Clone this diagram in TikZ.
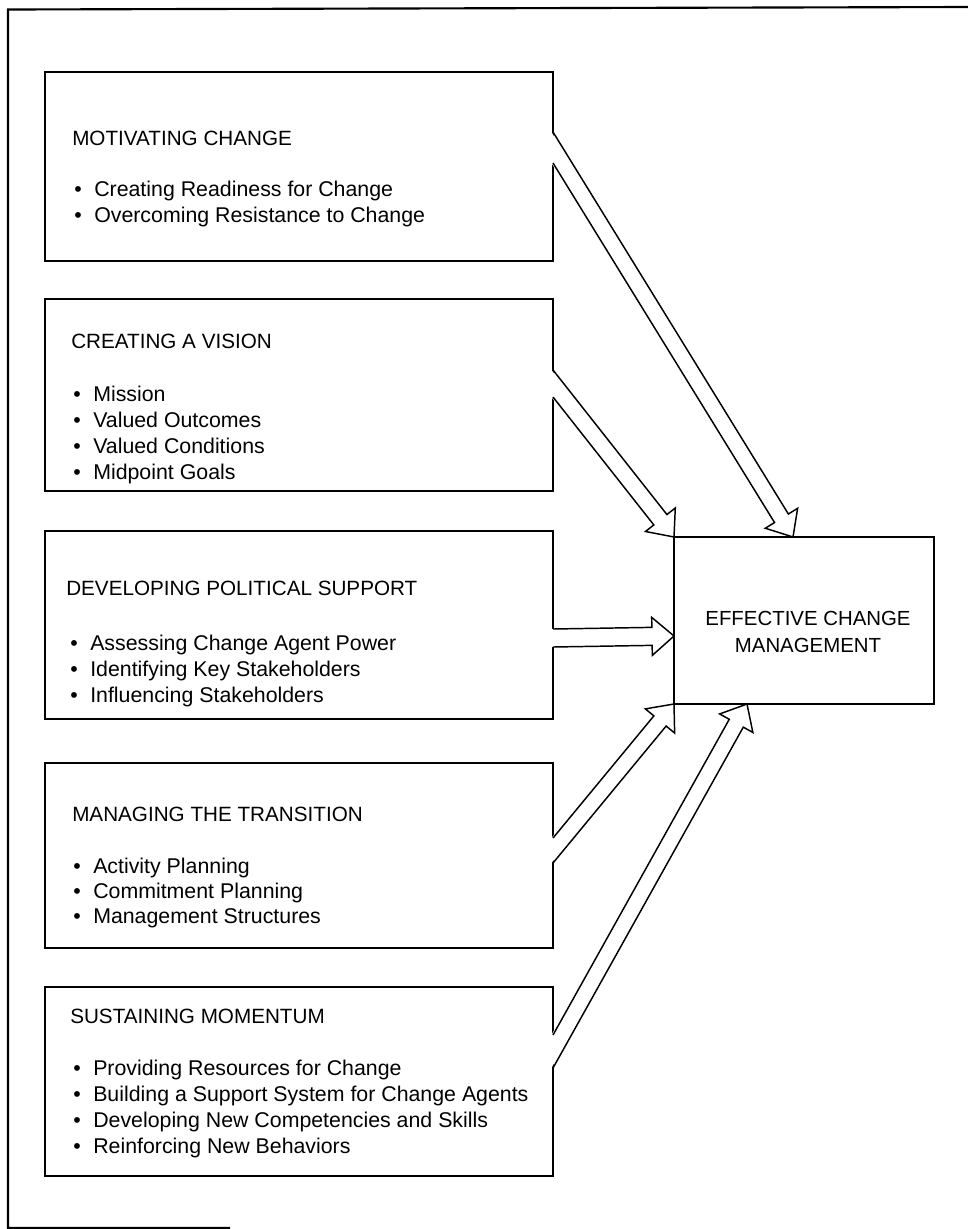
\documentclass[tikz,border=0pt]{standalone}
\usepackage{fontspec}
\setmainfont{Liberation Sans}
\usetikzlibrary{calc}
\newcommand{\myblockarrow}[3]{%
  \path ($(#1)!0.5!(#2)$) coordinate (ba-m)
        ($(#3)!16.5pt!(ba-m)$) coordinate (ba-c)
        ($(ba-c)!1!90:(#3)$) coordinate (ba-n)
        ($(ba-c)!(#1)!(ba-n)$) coordinate (ba-pu)
        ($(ba-c)!(#2)!(ba-n)$) coordinate (ba-pl)
        ($(ba-c)!14.25pt!(ba-pu)$) coordinate (ba-bu)
        ($(ba-c)!14.25pt!(ba-pl)$) coordinate (ba-bl);
  \fill[white] ($(#1)+(-1.6,0)$) -- (ba-pu) -- (ba-bu) -- (#3) -- (ba-bl) -- (ba-pl) -- ($(#2)+(-1.6,0)$) -- cycle;
  \draw[arrowline] (#1) -- (ba-pu) -- (ba-bu) -- (#3) -- (ba-bl) -- (ba-pl) -- (#2);
}
\newcommand{\myboxtext}[7]{%
  % #1 name, #2 heading x, #3 heading baseline, #4 item text x, #5 first item baseline, #6 step, #7 heading
  \node[headtext] (#1-h) at (#2,#3) {#7};
}
\begin{document}
\begin{tikzpicture}[x=0.75pt,y=-0.75pt,
  box/.style={draw, line width=1.2pt, anchor=north west, outer sep=0pt, inner sep=0pt},
  arrowline/.style={line width=1.1pt, line join=miter},
  headtext/.style={anchor=base west, inner sep=0pt, font=\fontsize{15.5}{18}\selectfont},
  itemtext/.style={anchor=base west, inner sep=0pt, font=\fontsize{16}{19}\selectfont},
  ecmtext/.style={align=center, inner sep=0pt, font=\fontsize{15.3}{20.25}\selectfont}]
\useasboundingbox (0,0) rectangle (968,1229);
% outer frame (only left, top and part of bottom visible)
\draw[line width=1.6pt] (230,1228) -- (8,1228) -- (8,9.5) -- (968,7);

% boxes
\node[box, minimum width={508*0.75pt}, minimum height={189*0.75pt}] (m1) at (45,72) {};
\node[box, minimum width={508*0.75pt}, minimum height={192*0.75pt}] (m2) at (45,299) {};
\node[box, minimum width={508*0.75pt}, minimum height={188*0.75pt}] (m3) at (45,531) {};
\node[box, minimum width={508*0.75pt}, minimum height={185*0.75pt}] (m4) at (45,763) {};
\node[box, minimum width={508*0.75pt}, minimum height={189*0.75pt}] (m5) at (45,987) {};
\node[box, minimum width={260*0.75pt}, minimum height={167*0.75pt}] (ecm) at (674,537) {};

% texts
\node[headtext] (m1-h) at (72,145.5) {MOTIVATING CHANGE};
\foreach \t [count=\i] in {Creating Readiness for Change, Overcoming Resistance to Change}
  \node[itemtext] (m1-i\i) at (74,{196.5+26*(\i-1)}) {\makebox[15pt][l]{•}\t};

\node[headtext] (m2-h) at (71,348.5) {CREATING A VISION};
\foreach \t [count=\i] in {Mission, Valued Outcomes, Valued Conditions, Midpoint Goals}
  \node[itemtext] (m2-i\i) at (73,{401.5+26*(\i-1)}) {\makebox[15pt][l]{•}\t};

\node[headtext] (m3-h) at (66,595.5) {DEVELOPING POLITICAL SUPPORT};
\foreach \t [count=\i] in {Assessing Change Agent Power, Identifying Key Stakeholders, Influencing Stakeholders}
  \node[itemtext] (m3-i\i) at (70,{650.5+26*(\i-1)}) {\makebox[15pt][l]{•}\t};

\node[headtext] (m4-h) at (72,821.5) {MANAGING THE TRANSITION};
\foreach \t [count=\i] in {Activity Planning, Commitment Planning, Management Structures}
  \node[itemtext] (m4-i\i) at (73,{873.5+25*(\i-1)}) {\makebox[15pt][l]{•}\t};

\node[headtext] (m5-h) at (70,1023) {SUSTAINING MOMENTUM};
\foreach \t [count=\i] in {Providing Resources for Change, Building a Support System for Change Agents, Developing New Competencies and Skills, Reinforcing New Behaviors}
  \node[itemtext] (m5-i\i) at (73,{1075+26*(\i-1)}) {\makebox[15pt][l]{•}\t};

\node[ecmtext] (ecm-t) at ($(ecm.center)+(4,11)$) {EFFECTIVE CHANGE\\MANAGEMENT};

% arrow end points
\coordinate (a1u) at ($(m1.north east)+(0,60)$);
\coordinate (a1l) at ($(m1.north east)+(0,91)$);
\coordinate (a2u) at ($(m2.north east)+(0,71)$);
\coordinate (a2l) at ($(m2.north east)+(0,98)$);
\coordinate (a3u) at ($(m3.north east)+(0,98)$);
\coordinate (a3l) at ($(m3.north east)+(0,116)$);
\coordinate (a4u) at ($(m4.north east)+(0,75)$);
\coordinate (a4l) at ($(m4.north east)+(0,100)$);
\coordinate (a5u) at ($(m5.north east)+(0,48)$);
\coordinate (a5l) at ($(m5.north east)+(0,81)$);
\coordinate (t1) at ($(ecm.north west)+(119,0)$);
\coordinate (t2) at (ecm.north west);
\coordinate (t3) at ($(ecm.north west)+(0,99)$);
\coordinate (t4) at (ecm.south west);
\coordinate (t5) at ($(ecm.south west)+(73,0)$);

\myblockarrow{a1u}{a1l}{t1}
\myblockarrow{a2u}{a2l}{t2}
\myblockarrow{a3u}{a3l}{t3}
\myblockarrow{a4u}{a4l}{t4}
\myblockarrow{a5u}{a5l}{t5}
\end{tikzpicture}
\end{document}
